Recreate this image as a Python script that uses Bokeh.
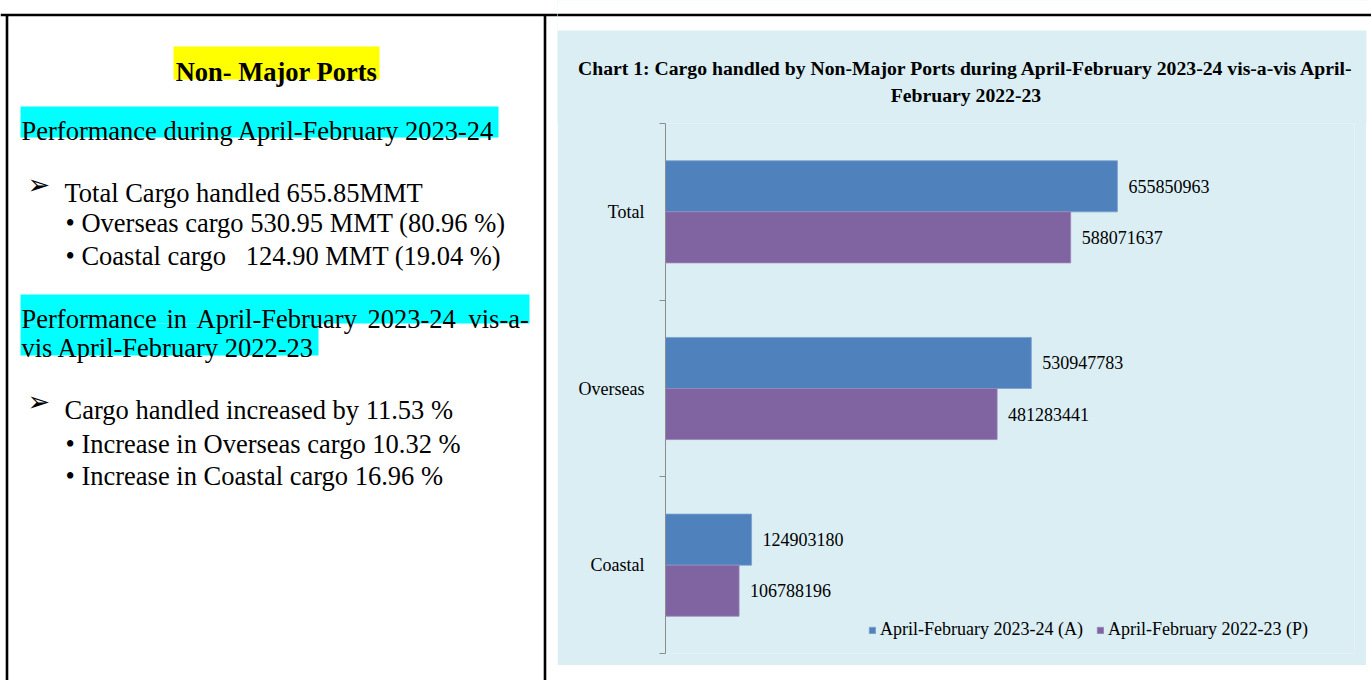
from bokeh.plotting import figure
from bokeh.models import (Range1d, LinearAxis, FixedTicker, Legend, LegendItem,
                          ColumnDataSource, Spacer)
from bokeh.layouts import row, column
from bokeh.core.properties import value
from bokeh.embed import file_html
from bokeh.resources import INLINE

# ---------------- data ----------------
categories = ["Total", "Overseas", "Coastal"]
series_names = ["April-February 2023-24 (A)", "April-February 2022-23 (P)"]
cargo_2023_24 = [655850963, 530947783, 124903180]
cargo_2022_23 = [588071637, 481283441, 106788196]

chart_title = ["Chart 1: Cargo handled by Non-Major Ports during April-February 2023-24 vis-a-vis April-",
               "February 2022-23"]

SERIF = value("Liberation Serif")
BLUE = "#4F81BD"
PURPLE = "#8064A2"
PANEL_BG = "#DAEEF3"


def no_align(fig):
    if "frame_align" in fig.properties():
        fig.frame_align = False
    return fig


def deco_figure(w, h, x0, y0, fill="white"):
    f = figure(width=w, height=h, x_range=Range1d(x0, x0 + w), y_range=Range1d(y0 + h, y0),
               output_backend="svg", toolbar_location=None,
               x_axis_location=None, y_axis_location=None, min_border=0,
               outline_line_color=None, background_fill_color=fill,
               border_fill_color=fill)
    f.grid.visible = False
    return no_align(f)


# ---------------- left text panel ----------------
left = deco_figure(557, 680, 0, 0)

# table borders
left.segment(x0=[0, 6.5, 544.5], y0=[14.5, 14, 14], x1=[557, 6.5, 544.5], y1=[14.5, 680, 680],
             line_color="black", line_width=2.6)

# highlights
left.quad(left=[173], right=[379], top=[46], bottom=[79], fill_color="#FFFF00", line_color=None)
left.quad(left=[20, 20, 20], right=[498, 529, 318], top=[106, 294, 323], bottom=[137, 323, 355],
          fill_color="#00FFFF", line_color=None)

fs = "26.5px"
left.text(x=[276], y=[71], text=["Non- Major Ports"], text_font=SERIF, text_font_size=fs,
          text_font_style="bold", text_align="center", text_baseline="alphabetic", text_color="black")

plain_x = [21, 64, 65, 65, 21, 64, 65, 65]
plain_y = [130, 192, 222, 255, 347, 409, 443, 475]
plain_t = ["Performance during April-February 2023-24",
           "Total Cargo handled 655.85MMT",
           "\u2022 Overseas cargo 530.95 MMT (80.96 %)",
           "\u2022 Coastal cargo \u00a0\u00a0124.90 MMT (19.04 %)",
           "vis April-February 2022-23",
           "Cargo handled increased by 11.53 %",
           "\u2022 Increase in Overseas cargo 10.32 %",
           "\u2022 Increase in Coastal cargo 16.96 %"]
left.text(x=plain_x, y=plain_y, text=plain_t, text_font=SERIF, text_font_size=fs,
          text_align="left", text_baseline="alphabetic", text_color="black")

# justified line
jx = [21, 166, 196, 367, 468]
jt = ["Performance", "in", "April-February", "2023-24", "vis-a-"]
left.text(x=jx, y=[318] * 5, text=jt, text_font=SERIF, text_font_size=fs,
          text_align="left", text_baseline="alphabetic", text_color="black")

# arrow bullets
left.text(x=[27, 27], y=[184, 401], text=["\u27A2", "\u27A2"], text_font=value("DejaVu Sans"),
          text_font_size="27px", text_align="left", text_baseline="middle", text_color="black")

# ---------------- right: title strip ----------------
top = deco_figure(814, 123, 557, 0, fill=PANEL_BG)
top.quad(left=[550, 1366], right=[1380, 1380], top=[-5, -5], bottom=[30, 130],
         fill_color="white", line_color=None)
top.segment(x0=[550], y0=[14.5], x1=[1380], y1=[14.5], line_color="black", line_width=2.6)
top.text(x=[965.5, 965.5], y=[67, 94], text=chart_title, text_font=SERIF,
         text_font_size="19.7px", text_font_style="bold", text_align="center",
         text_baseline="alphabetic", text_color="black")

# ---------------- right: bar chart ----------------
n = len(categories)
centers = [n - i - 0.5 for i in range(n)]
bar_h = 0.289
off = bar_h / 2
src = ColumnDataSource(dict(
    cat=categories,
    y_a=[c + off for c in centers],
    y_b=[c - off for c in centers],
    a=cargo_2023_24,
    b=cargo_2022_23,
    a_txt=[str(v) for v in cargo_2023_24],
    b_txt=[str(v) for v in cargo_2022_23],
))

overlap = 0
p = figure(width=809, height=543, x_range=Range1d(0, 1.0e9), y_range=Range1d(0, n),
           output_backend="svg", toolbar_location=None,
           x_axis_location=None, y_axis_location=None,
           min_border_left=108, min_border_right=12, min_border_top=1, min_border_bottom=12,
           background_fill_color=PANEL_BG, border_fill_color=PANEL_BG,
           outline_line_color=None)
p.grid.visible = False
no_align(p)
try:
    p.margin = (-1, 0, 0, 0)
    overlap = 1
except Exception:
    p.min_border_top = 0
    p.height = 542

ra = p.hbar(y="y_a", right="a", left=0, height=bar_h, source=src,
            fill_color=BLUE, line_color="#7BA0CD", line_width=0.8)
rb = p.hbar(y="y_b", right="b", left=0, height=bar_h, source=src,
            fill_color=PURPLE, line_color="#9B85B8", line_width=0.8)

p.text(x="a", y="y_a", text="a_txt", source=src, x_offset=11, text_font=SERIF,
       text_font_size="18px", text_align="left", text_baseline="middle", text_color="black")
p.text(x="b", y="y_b", text="b_txt", source=src, x_offset=11, text_font=SERIF,
       text_font_size="18px", text_align="left", text_baseline="middle", text_color="black")

yaxis = LinearAxis(
    ticker=FixedTicker(ticks=centers, minor_ticks=list(range(n + 1))),
    major_label_overrides={c: cat for c, cat in zip(centers, categories)},
    major_tick_out=0, major_tick_in=0, minor_tick_out=6, minor_tick_in=0,
    axis_line_color="#8C8C8C", minor_tick_line_color="#8C8C8C",
    major_label_text_font="Liberation Serif", major_label_text_font_size="18px",
    major_label_text_color="black", major_label_standoff=15,
)
p.add_layout(yaxis, "left")

legend = Legend(items=[LegendItem(label=series_names[0], renderers=[ra]),
                       LegendItem(label=series_names[1], renderers=[rb])],
                orientation="horizontal", location=(203, 13),
                glyph_width=8, glyph_height=8, label_standoff=4, spacing=13,
                padding=0, margin=0, background_fill_alpha=0, border_line_color=None,
                label_text_font="Liberation Serif", label_text_font_size="18px",
                label_text_color="black", label_height=20)
p.add_layout(legend)

right = column(top, p, Spacer(width=809, height=15), spacing=0)
layout = row(left, right, spacing=0)

open("out.html", "w").write(file_html(layout, INLINE))
